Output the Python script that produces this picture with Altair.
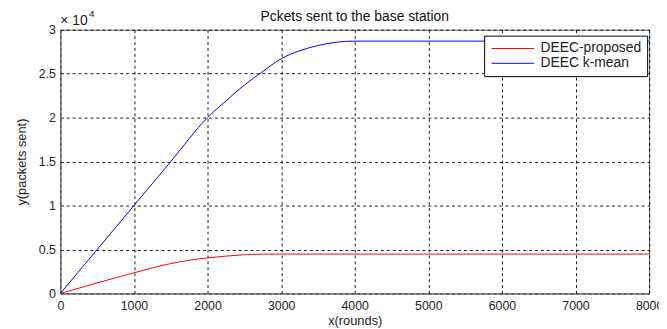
import altair as alt
import pandas as pd

# ---- data ----
series_names = ["DEEC-proposed", "DEEC k-mean"]
series_colors = ["#ff0000", "#0000ff"]

rounds_red = [0, 500, 1000, 1500, 2000, 2250, 2500, 2750, 3000, 8000]
packets_red = [0, 1200, 2350, 3400, 4050, 4250, 4400, 4470, 4480, 4480]

rounds_blue = [0, 500, 1000, 1500, 2000, 2250, 2500, 2750, 3000, 3250, 3500, 3750, 4000, 8000]
packets_blue = [0, 5000, 10000, 15000, 20000, 21900, 23700, 25250, 26700, 27600, 28200, 28580, 28700, 28700]

x_ticks = [0, 1000, 2000, 3000, 4000, 5000, 6000, 7000, 8000]
y_ticks = [0, 5000, 10000, 15000, 20000, 25000, 30000]

title_text = "Pckets sent to the base station"
x_title = "x(rounds)"
y_title = "y(packets sent)"
exp_base = "× 10"
exp_power = "4"

df = pd.concat([
    pd.DataFrame({"rounds": rounds_red, "packets": packets_red, "series": series_names[0]}),
    pd.DataFrame({"rounds": rounds_blue, "packets": packets_blue, "series": series_names[1]}),
])

W, H = 596, 267
FONT = "Liberation Sans"

lines = alt.Chart(df).mark_line(strokeWidth=1, clip=True, interpolate="monotone").encode(
    x=alt.X("rounds:Q",
            scale=alt.Scale(domain=[0, 8000], nice=False, zero=False),
            axis=alt.Axis(values=x_ticks, format="d", labelFlush=False, title=x_title,
                          titleX=W / 2, titleY=27,
                          titleBaseline="middle", titleAlign="center")),
    y=alt.Y("packets:Q",
            scale=alt.Scale(domain=[0, 30000], nice=False),
            axis=alt.Axis(values=y_ticks, labelExpr="datum.value / 10000", labelFlush=False,
                          title=y_title,
                          titleX=-39, titleY=H / 2, titleBaseline="middle", titleAlign="center")),
    color=alt.Color("series:N",
                    scale=alt.Scale(domain=series_names, range=series_colors),
                    legend=alt.Legend(title=None, orient="none", legendX=429, legendY=6,
                                      symbolType="M-4,0L4,0", symbolSize=116,
                                      symbolStrokeWidth=1, labelOffset=21,
                                      symbolOffset=16, rowPadding=1,
                                      labelFontSize=14, labelFont=FONT, labelColor="#222",
                                      strokeColor="#000", fillColor="#fff", padding=6,
                                      labelBaseline="middle")),
)

title_layer = alt.Chart(pd.DataFrame({"t": [title_text]})).mark_text(
    font=FONT, fontSize=14, color="#111", baseline="alphabetic", align="center"
).encode(text="t:N", x=alt.value(W / 2), y=alt.value(-8.5))

exp_layer = alt.Chart(pd.DataFrame({"t": [exp_base]})).mark_text(
    font=FONT, fontSize=14, color="#222", baseline="alphabetic", align="left"
).encode(text="t:N", x=alt.value(0), y=alt.value(-4.5))

pow_layer = alt.Chart(pd.DataFrame({"t": [exp_power]})).mark_text(
    font=FONT, fontSize=10, color="#222", baseline="alphabetic", align="left"
).encode(text="t:N", x=alt.value(29), y=alt.value(-13))

chart = alt.layer(lines, title_layer, exp_layer, pow_layer).properties(
    width=W, height=H,
    autosize=alt.AutoSizeParams(type="none"),
    padding={"left": 53, "top": 20, "right": 10, "bottom": 34},
).configure_view(
    stroke="#666", strokeWidth=1
).configure_axis(
    grid=True, gridColor="#000", gridDash=[3, 3], gridOpacity=0.9, gridWidth=1,
    domainColor="#666", domainWidth=1, ticks=False,
    labelFont=FONT, labelFontSize=12.5, labelColor="#222", labelPadding=5,
    titleFont=FONT, titleFontSize=13, titleColor="#222", titleFontWeight="normal",
).configure_axisX(labelPadding=6)

chart.save("out.html", embed_options={"renderer": "svg", "actions": False})
